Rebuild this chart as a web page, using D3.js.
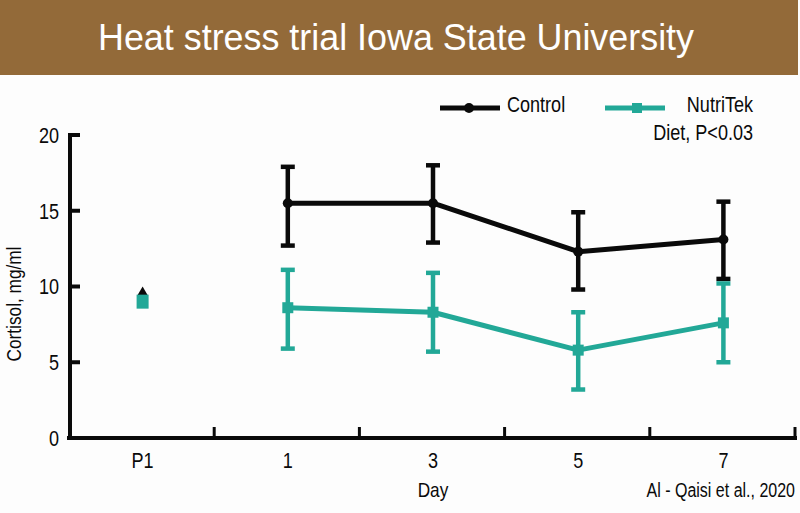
<!DOCTYPE html>
<html><head><meta charset="utf-8">
<script src="https://cdn.jsdelivr.net/npm/d3@7"></script>
<style>
html,body{margin:0;padding:0;background:#fff;}
text{font-family:"Liberation Sans","Arial",sans-serif;}
</style></head>
<body><svg id="c" width="800" height="513"></svg>
<script>
const categories = ["P1", "1", "3", "5", "7"];
const yTicks = [0, 5, 10, 15, 20];
const controlMean = [9.6, 15.5, 15.5, 12.3, 13.1];
const controlLow  = [null, 12.7, 12.9, 9.8, 10.5];
const controlHigh = [null, 17.9, 18.0, 14.9, 15.6];
const nutriMean = [9.0, 8.6, 8.3, 5.8, 7.6];
const nutriLow  = [null, 5.9, 5.7, 3.2, 5.0];
const nutriHigh = [null, 11.1, 10.9, 8.3, 10.2];

const BLACK = "#0a0a0a", TEAL = "#22a897", BROWN = "#936a39";
const svg = d3.select("#c");
// condense text like a narrow face
function narrow(sel, f = 0.82) {
  sel.each(function() {
    const len = this.getComputedTextLength();
    d3.select(this).attr("textLength", len * f).attr("lengthAdjust", "spacingAndGlyphs");
  });
  return sel;
}
svg.append("rect").attr("width",800).attr("height",513).attr("fill","#fdfdfd");
svg.append("rect").attr("x",0).attr("y",0).attr("width",798).attr("height",75).attr("fill",BROWN);
svg.append("text").attr("x",396).attr("y",50).attr("text-anchor","middle")
  .attr("fill","#fff").attr("font-size",36).text("Heat stress trial Iowa State University")
  .attr("textLength",596).attr("lengthAdjust","spacingAndGlyphs");

const x = d3.scaleBand().domain(categories).range([70, 796]).padding(0);
const y = d3.scaleLinear().domain([0, 20]).range([438, 135]);
const cx = d => x(d) + x.bandwidth()/2;

// y axis
svg.append("line").attr("x1",70).attr("x2",70).attr("y1",y(20)-2).attr("y2",y(0)+2)
  .attr("stroke",BLACK).attr("stroke-width",4);
yTicks.forEach(t => {
  svg.append("line").attr("x1",70).attr("x2",80).attr("y1",y(t)).attr("y2",y(t))
    .attr("stroke",BLACK).attr("stroke-width",4);
  narrow(svg.append("text").attr("x",59).attr("y",y(t)).attr("dy","0.36em").attr("text-anchor","end")
    .attr("font-size",22).attr("fill",BLACK).text(t));
});
// x axis
svg.append("line").attr("x1",67).attr("x2",797).attr("y1",y(0)).attr("y2",y(0))
  .attr("stroke",BLACK).attr("stroke-width",4);
categories.forEach(c => {
  const bx = x(c) + x.bandwidth();
  svg.append("line").attr("x1",bx-1).attr("x2",bx-1).attr("y1",y(0)).attr("y2",y(0)-11)
    .attr("stroke",BLACK).attr("stroke-width",3);
  narrow(svg.append("text").attr("x",cx(c)).attr("y",468).attr("text-anchor","middle")
    .attr("font-size",22).attr("fill",BLACK).text(c));
});
narrow(svg.append("text").attr("x",cx("3")).attr("y",497).attr("text-anchor","middle")
  .attr("font-size",21).attr("fill",BLACK).text("Day"));
narrow(svg.append("text").attr("x",795).attr("y",497).attr("text-anchor","end")
  .attr("font-size",19.5).attr("fill",BLACK).text("Al - Qaisi et al., 2020"));
narrow(svg.append("text").attr("transform","translate(21,304) rotate(-90)").attr("text-anchor","middle")
  .attr("font-size",21).attr("fill",BLACK).text("Cortisol, mg/ml"));

function series(mean, low, high, color, marker) {
  const idx = d3.range(1, categories.length);
  const line = d3.line().x(i => cx(categories[i])).y(i => y(mean[i]));
  svg.append("path").attr("d", line(idx)).attr("fill","none").attr("stroke",color)
    .attr("stroke-width",5).attr("stroke-linejoin","round");
  idx.forEach(i => {
    const px = cx(categories[i]);
    svg.append("line").attr("x1",px).attr("x2",px).attr("y1",y(high[i])).attr("y2",y(low[i]))
      .attr("stroke",color).attr("stroke-width",4.5);
    [high[i], low[i]].forEach(v => svg.append("line").attr("x1",px-7).attr("x2",px+7)
      .attr("y1",y(v)).attr("y2",y(v)).attr("stroke",color).attr("stroke-width",4.5));
    if (marker === "circle") svg.append("circle").attr("cx",px).attr("cy",y(mean[i])).attr("r",5).attr("fill",color);
    else svg.append("rect").attr("x",px-5.5).attr("y",y(mean[i])-5.5).attr("width",11).attr("height",11).attr("fill",color);
  });
}
series(controlMean, controlLow, controlHigh, BLACK, "circle");
series(nutriMean, nutriLow, nutriHigh, TEAL, "square");

// P1 markers
svg.append("path").attr("d", d3.symbol(d3.symbolTriangle, 48)())
  .attr("transform",`translate(${cx("P1")},${y(controlMean[0])})`).attr("fill",BLACK);
svg.append("rect").attr("x",cx("P1")-6).attr("y",y(nutriMean[0])-7).attr("width",12).attr("height",14).attr("fill",TEAL);

// legend
svg.append("line").attr("x1",440).attr("x2",500).attr("y1",108).attr("y2",108).attr("stroke",BLACK).attr("stroke-width",5);
svg.append("circle").attr("cx",469).attr("cy",108).attr("r",5).attr("fill",BLACK);
narrow(svg.append("text").attr("x",507).attr("y",112).attr("font-size",22).attr("fill",BLACK).text("Control"));
svg.append("line").attr("x1",605).attr("x2",665).attr("y1",108).attr("y2",108).attr("stroke",TEAL).attr("stroke-width",5);
svg.append("rect").attr("x",632).attr("y",103).attr("width",10).attr("height",10).attr("fill",TEAL);
narrow(svg.append("text").attr("x",753).attr("y",112).attr("text-anchor","end").attr("font-size",22).attr("fill",BLACK).text("NutriTek"));
narrow(svg.append("text").attr("x",753).attr("y",140).attr("text-anchor","end").attr("font-size",22).attr("fill",BLACK).text("Diet, P<0.03"));
</script></body></html>
